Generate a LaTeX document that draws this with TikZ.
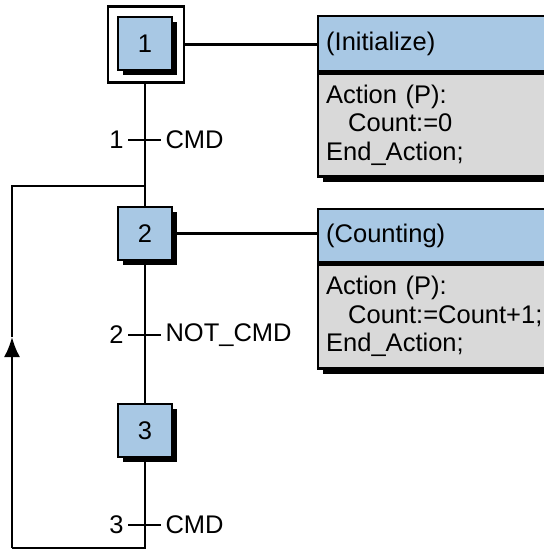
\documentclass[tikz,border=0pt]{standalone}
\usepackage{fontspec}
\setmainfont{Liberation Sans}
\usetikzlibrary{positioning,arrows.meta,shadows}
\definecolor{stepblue}{HTML}{A8C8E4}
\definecolor{actgray}{HTML}{D9D9D9}

\begin{document}
\begin{tikzpicture}[x=1pt,y=-1pt,line width=2.4pt,
    font=\fontsize{25.5}{28.5}\selectfont,
    stepbox/.style={draw,fill=stepblue,minimum width=54pt,minimum height=53pt,inner sep=0pt,
      drop shadow={opacity=1,fill=black,shadow xshift=5pt,shadow yshift=-5pt}},
    acthead/.style={draw,fill=stepblue,anchor=north west,minimum width=240pt,text width=224pt,
      inner xsep=8pt,align=left,drop shadow={opacity=1,fill=black,shadow xshift=5pt,shadow yshift=-5pt}},
    actbody/.style={draw,fill=actgray,anchor=north west,minimum width=240pt,text width=224pt,
      inner xsep=8pt,align=left,drop shadow={opacity=1,fill=black,shadow xshift=5pt,shadow yshift=-5pt}}]
  \useasboundingbox (0,0) rectangle (544,550);
  \node[draw,minimum size=76pt,inner sep=0pt] (s1o) at (146,44.5) {};
  \node[stepbox] (s1) at (145,43.5) {1};
  \node[stepbox] (s2) at (145,233.5) {2};
  \node[stepbox] (s3) at (145,430.5) {3};

  \node[acthead,minimum height=55pt] (a1h) at (317,15) {(Initialize)};
  \node[actbody,minimum height=103pt] (a1b) at (a1h.south west) {Action (P):\\\hspace*{22pt}Count:=0\\End\_Action;};
  \node[acthead,minimum height=53pt] (a2h) at (317,208) {(Counting)};
  \node[actbody,minimum height=104pt] (a2b) at (a2h.south west) {Action (P):\\\hspace*{22pt}Count:=Count+1;\\End\_Action;};

  \draw (s1o.east) -- (s1o.east -| a1h.west);
  \draw (s2.east) -- (s2.east -| a2h.west);

  \coordinate (t1) at (145,140);
  \coordinate (t2) at (145,335);
  \coordinate (t3) at (145,525);
  \node[left=17pt of t1] (t1n) {1};
  \node[right=16pt of t1] (t1c) {CMD};
  \node[left=17pt of t2] (t2n) {2};
  \node[right=16pt of t2] (t2c) {NOT\_CMD};
  \node[left=17pt of t3] (t3n) {3};
  \node[right=16pt of t3] (t3c) {CMD};
  \draw (t1n.east) -- (t1c.west);
  \draw (t2n.east) -- (t2c.west);
  \draw (t3n.east) -- (t3c.west);

  \coordinate (jn) at (145,186);
  \coordinate (lb) at (12,548);
  \coordinate (la) at (12,337);
  \draw (s1o.south -| s1) -- (s2.north);
  \draw (s2.south) -- (s3.north);
  \draw (s3.south) |- (lb);
  \draw[-{Latex[length=20pt,width=16pt]}] (lb) -- (la);
  \draw (la) |- (jn);
\end{tikzpicture}
\end{document}
